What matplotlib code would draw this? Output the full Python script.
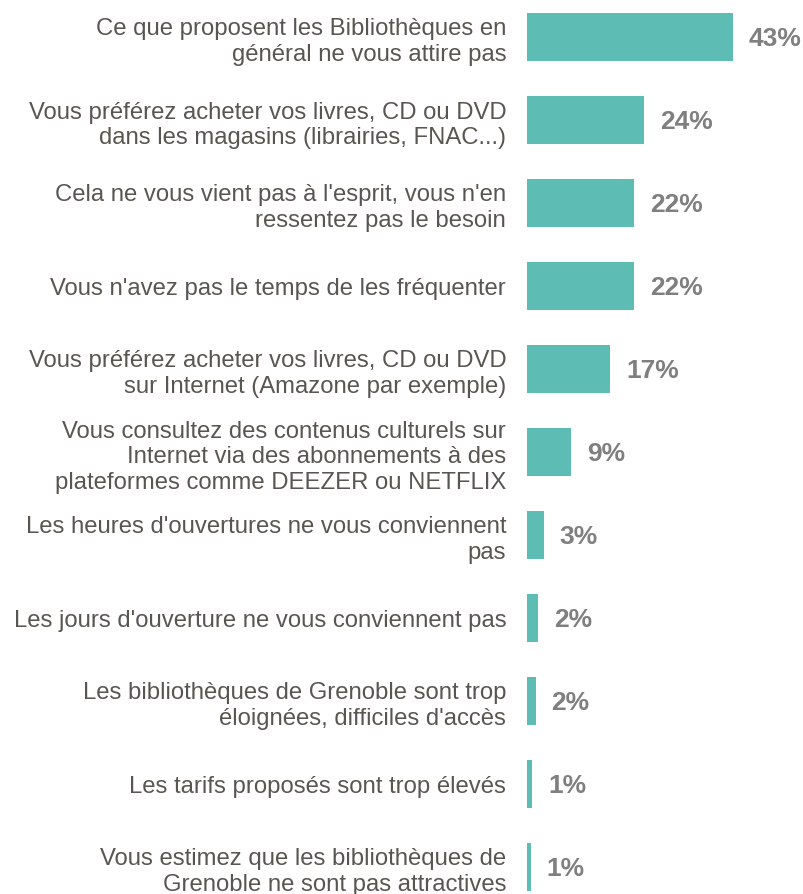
import numpy as np
import matplotlib.pyplot as plt

# raisons de non-fréquentation des bibliothèques
categories = [
    "Ce que proposent les Bibliothèques en\ngénéral ne vous attire pas",
    "Vous préférez acheter vos livres, CD ou DVD\ndans les magasins (librairies, FNAC...)",
    "Cela ne vous vient pas à l'esprit, vous n'en\nressentez pas le besoin",
    "Vous n'avez pas le temps de les fréquenter",
    "Vous préférez acheter vos livres, CD ou DVD\nsur Internet (Amazone par exemple)",
    "Vous consultez des contenus culturels sur\nInternet via des abonnements à des\nplateformes comme DEEZER ou NETFLIX",
    "Les heures d'ouvertures ne vous conviennent\npas",
    "Les jours d'ouverture ne vous conviennent pas",
    "Les bibliothèques de Grenoble sont trop\néloignées, difficiles d'accès",
    "Les tarifs proposés sont trop élevés",
    "Vous estimez que les bibliothèques de\nGrenoble ne sont pas attractives",
]
values = [43.0, 24.4, 22.4, 22.3, 17.4, 9.2, 3.5, 2.4, 1.8, 1.1, 0.8]
value_labels = ["43%", "24%", "22%", "22%", "17%", "9%", "3%", "2%", "2%", "1%", "1%"]

W, H = 804, 895
px_per_pct = 4.79
x0 = 527          # left edge of the bars (px)
row = 83.0       # spacing between bars (px)
first = 38.0     # center of first bar (px)

fig = plt.figure(figsize=(W / 100, H / 100), dpi=100)
ax = fig.add_axes([x0 / W, 0, 1 - x0 / W, 1])

y = np.arange(len(values))
ax.barh(y, values, height=48 / row, color='#5dbdb4', edgecolor='none')

ax.set_xlim(0, (W - x0) / px_per_pct)
ax.set_ylim((H - first) / row, -first / row)

ax.set_yticks(y)
ax.set_yticklabels(categories, fontsize=17.2, color='#595652',
                   family='Liberation Sans', linespacing=1.2)
ax.tick_params(axis='y', length=0, pad=15)
ax.set_xticks([])
for s in ax.spines.values():
    s.set_visible(False)

for yi, v, lab in zip(y, values, value_labels):
    ax.annotate(lab, (v, yi), xytext=(11.5, -1), textcoords='offset points',
                va='center', ha='left', fontsize=19, fontweight='bold',
                color='#7f7f7f', family='Liberation Sans')

fig.savefig('out.png', dpi=100)
